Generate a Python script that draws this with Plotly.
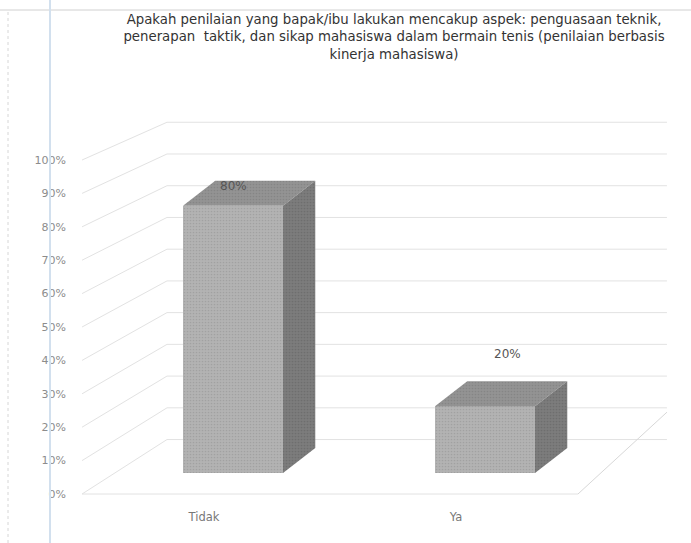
import plotly.graph_objects as go

# ---------------- data ----------------
categories = ["Tidak", "Ya"]
values = [80, 20]
value_labels = ["80%", "20%"]
tick_values = [0, 10, 20, 30, 40, 50, 60, 70, 80, 90, 100]
tick_labels = ["0%", "10%", "20%", "30%", "40%", "50%", "60%", "70%", "80%", "90%", "100%"]
title_text = ("Apakah penilaian yang bapak/ibu lakukan mencakup aspek: penguasaan teknik,<br>"
              "penerapan  taktik, dan sikap mahasiswa dalam bermain tenis (penilaian berbasis<br>"
              "kinerja mahasiswa)")

# ---------------- style / geometry ----------------
W, H = 691, 543
BAR_W = 0.397          # front face width (x units)
DEPTH_DX = 0.128       # 3D depth, x units
DEPTH_DY = 7.5         # 3D depth, y units
FRONT_C = "#b3b3b3"
TOP_C = "#939393"
SIDE_C = "#7c7c7c"
GRID_C = "#e2e2e2"
LABEL_DX = [0.0, 0.09]
LABEL_DY = [6.0, 15.5]
CAT_SHIFT = -0.115
X_FRONT, X_BACK, X_RIGHT, X_FLOOR_R = -0.599, -0.262, 1.722, 1.369
BACK_OFF, BACK_SCALE, FLOOR_BACK = 16.3, 0.95, 24.5
FONT = "DejaVu Sans"

xpos = list(range(len(categories)))

fig = go.Figure()

pat = dict(shape=".", size=3, solidity=0.25, fgcolor="#8f8f8f")

# front faces
fig.add_trace(go.Bar(
    x=xpos, y=values, width=BAR_W, yaxis="y2",
    marker=dict(color=FRONT_C, line=dict(width=0), pattern=pat),
    hoverinfo="skip", showlegend=False))

# top and side faces computed from values
for i, v in zip(xpos, values):
    l, r = i - BAR_W / 2, i + BAR_W / 2
    fig.add_trace(go.Scatter(
        x=[l, l + DEPTH_DX, r + DEPTH_DX, r, l],
        y=[v, v + DEPTH_DY, v + DEPTH_DY, v, v],
        fill="toself", fillcolor=TOP_C, mode="lines", line=dict(width=0),
        fillpattern=dict(shape=".", size=3, solidity=0.25, fgcolor="#777777", bgcolor=TOP_C),
        yaxis="y2", hoverinfo="skip", showlegend=False))
    fig.add_trace(go.Scatter(
        x=[r, r + DEPTH_DX, r + DEPTH_DX, r, r],
        y=[0, DEPTH_DY, v + DEPTH_DY, v, 0],
        fill="toself", fillcolor=SIDE_C, mode="lines", line=dict(width=0),
        fillpattern=dict(shape=".", size=3, solidity=0.25, fgcolor="#5f5f5f", bgcolor=SIDE_C),
        yaxis="y2", hoverinfo="skip", showlegend=False))

# value labels
for i, (v, t) in enumerate(zip(values, value_labels)):
    fig.add_annotation(x=xpos[i] + LABEL_DX[i], y=v + LABEL_DY[i], xref="x", yref="y2",
                       text=t, showarrow=False,
                       font=dict(family=FONT, size=12, color="#555555"))

# wall gridlines derived from tick values
shapes = []
for t in tick_values:
    yb = BACK_OFF + BACK_SCALE * t
    shapes.append(dict(type="line", xref="x", yref="y", x0=X_FRONT, y0=t, x1=X_BACK, y1=yb,
                       line=dict(color=GRID_C, width=1), layer="below"))
    shapes.append(dict(type="line", xref="x", yref="y", x0=X_BACK, y0=yb, x1=X_RIGHT, y1=yb,
                       line=dict(color=GRID_C, width=1), layer="below"))
shapes.append(dict(type="line", xref="x", yref="y", x0=X_FRONT, y0=0, x1=X_FLOOR_R, y1=0,
                   line=dict(color=GRID_C, width=1), layer="below"))
shapes.append(dict(type="line", xref="x", yref="y", x0=X_FLOOR_R, y0=0, x1=X_RIGHT, y1=FLOOR_BACK,
                   line=dict(color="#d8d8d8", width=1), layer="below"))
# frame and scan line
shapes.append(dict(type="line", xref="paper", yref="paper", x0=0, y0=1 - 10 / H, x1=1, y1=1 - 10 / H,
                   line=dict(color="#d0d0d0", width=1)))
shapes.append(dict(type="line", xref="paper", yref="paper", x0=8 / W, y0=0, x1=8 / W, y1=1 - 10 / H,
                   line=dict(color="#d6d6d6", width=1, dash="dot")))
shapes.append(dict(type="line", xref="paper", yref="paper", x0=50 / W, y0=0, x1=50 / W, y1=1,
                   line=dict(color="#d2e0ee", width=2)))

fig.update_layout(
    width=W, height=H,
    margin=dict(l=0, r=0, t=0, b=0),
    paper_bgcolor="white", plot_bgcolor="rgba(0,0,0,0)",
    shapes=shapes,
    title=dict(text=title_text, x=394 / W, xanchor="center", y=1 - 24 / H, yanchor="top",
               font=dict(family=FONT, size=13.3, color="#333333")),
    xaxis=dict(domain=[0, 1], range=[-233 / 252, (W - 233) / 252],
               tickmode="array", tickvals=[p + CAT_SHIFT for p in xpos], ticktext=categories,
               showgrid=False, zeroline=False, showline=False, ticks="",
               anchor="free", position=1 - 508 / H,
               tickfont=dict(family=FONT, size=11.5, color="#777777")),
    yaxis=dict(domain=[0, 1], range=[-(H - 494) / 3.34, 494 / 3.34],
               tickmode="array", tickvals=tick_values, ticktext=tick_labels,
               showgrid=False, zeroline=False, showline=False, ticks="",
               anchor="free", position=66 / W,
               tickfont=dict(family=FONT, size=11, color="#8c8c8c")),
    yaxis2=dict(range=[-(H - 473) / 3.34, 473 / 3.34], overlaying="y", visible=False),
    bargap=0,
)

fig.write_html("out.html")
